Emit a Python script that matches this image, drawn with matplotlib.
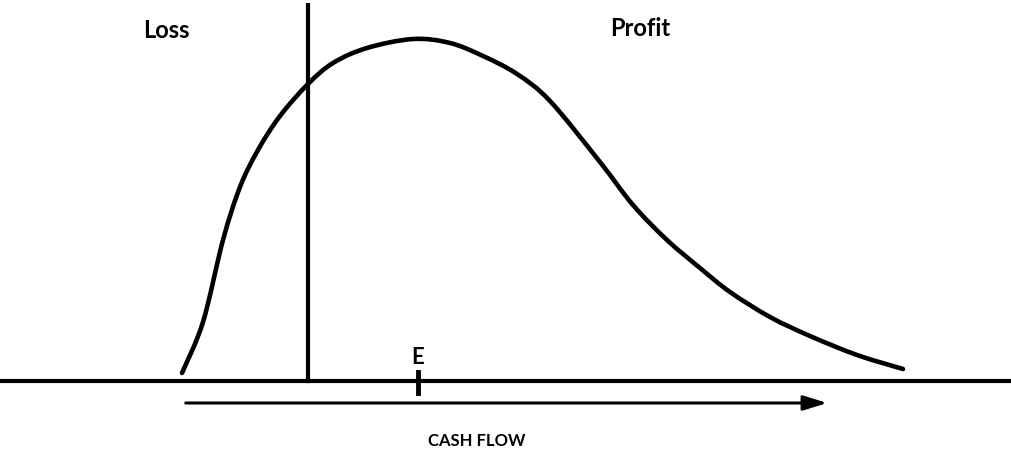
import matplotlib.pyplot as plt
from matplotlib.patches import FancyArrowPatch, PathPatch
from matplotlib.path import Path

# curve (pixel-like units, y grows downward)
curve_x = [182, 203, 223, 240, 258, 280, 308, 333, 367, 413, 450, 483, 517,
           550, 600, 633, 667, 700, 730, 770, 810, 857, 903]
curve_y = [373, 322, 240, 187, 150, 116, 84, 63, 48, 39, 43, 56, 74,
           101, 162, 205, 240, 268, 292, 317, 336, 355, 369]

baseline_y = 381
divider_x = 308
expected_x = 418
arrow_y = 403
arrow_start, arrow_end = 183, 830

plt.rcParams['font.family'] = ['Lato', 'DejaVu Sans']

fig = plt.figure(figsize=(10.12, 4.57), dpi=100)
ax = fig.add_axes([0, 0, 1, 1])
ax.set_xlim(0, 1012)
ax.set_ylim(457, 0)
ax.axis('off')

# smooth curve through the traced points (catmull-rom -> bezier)
pts = list(zip(curve_x, curve_y))
verts = [pts[0]]
codes = [Path.MOVETO]
for i in range(len(pts) - 1):
    p0 = pts[i - 1] if i > 0 else pts[i]
    p1, p2 = pts[i], pts[i + 1]
    p3 = pts[i + 2] if i + 2 < len(pts) else pts[i + 1]
    c1 = (p1[0] + (p2[0] - p0[0]) / 6, p1[1] + (p2[1] - p0[1]) / 6)
    c2 = (p2[0] - (p3[0] - p1[0]) / 6, p2[1] - (p3[1] - p1[1]) / 6)
    verts += [c1, c2, p2]
    codes += [Path.CURVE4] * 3
ax.add_patch(PathPatch(Path(verts, codes), fill=False, lw=3.3,
                       edgecolor='black', capstyle='round'))

ax.plot([0, 1012], [baseline_y, baseline_y], color='black', lw=3)
ax.plot([divider_x, divider_x], [5, baseline_y], color='black', lw=3)
ax.plot([expected_x, expected_x], [372, 393], color='black', lw=3.5)

ax.add_patch(FancyArrowPatch((arrow_start, arrow_y), (arrow_end, arrow_y),
                             arrowstyle='-|>,head_length=0.9,head_width=0.28',
                             mutation_scale=16, color='black', lw=2.2))

ax.text(166, 30, 'Loss', fontsize=17, fontweight='bold', ha='center', va='center')
ax.text(640, 28, 'Profit', fontsize=17, fontweight='bold', ha='center', va='center')
ax.text(expected_x, 357, 'E', fontsize=16, fontweight='bold', ha='center', va='center')
ax.text(477, 441, 'CASH FLOW', fontsize=12, fontweight='bold', ha='center', va='center')

fig.savefig('out.png', dpi=100)
